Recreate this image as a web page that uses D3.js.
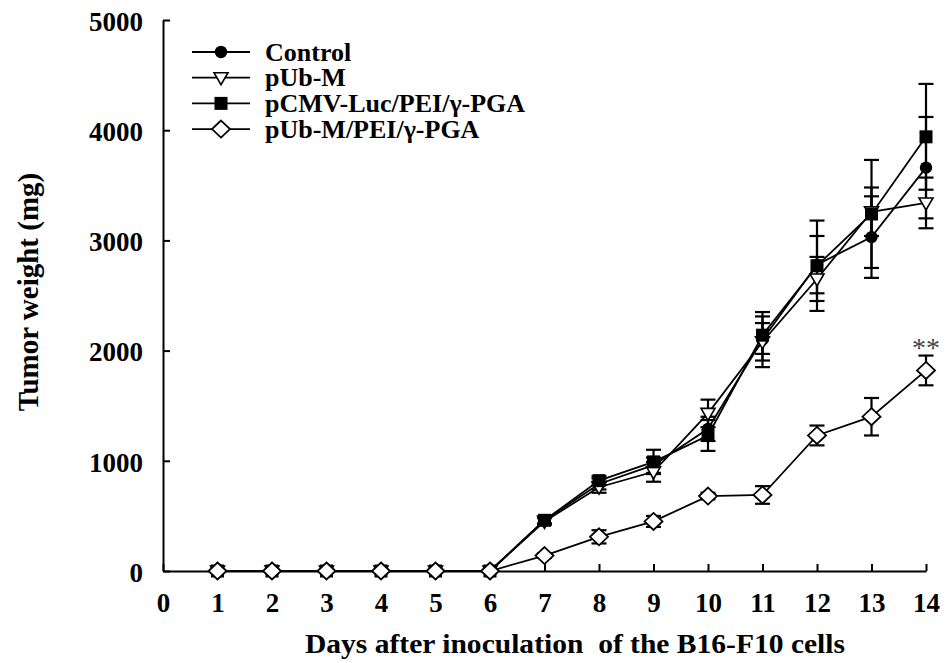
<!DOCTYPE html>
<html>
<head>
<meta charset="utf-8">
<script src="https://cdn.jsdelivr.net/npm/d3@7"></script>
<style>
  body { margin: 0; background: #fff; }
  svg text { font-family: "Liberation Serif", "Times New Roman", serif; }
</style>
</head>
<body>
<svg class="chart" width="946" height="663"></svg>
<script>
//------------------------------------------------------------------------------
//Data
//------------------------------------------------------------------------------
var days = [1, 2, 3, 4, 5, 6, 7, 8, 9, 10, 11, 12, 13, 14];
var xTicks = [0, 1, 2, 3, 4, 5, 6, 7, 8, 9, 10, 11, 12, 13, 14];
var yTicks = [0, 1000, 2000, 3000, 4000, 5000];
var seriesNames = ["Control", "pUb-M", "pCMV-Luc/PEI/\u03b3-PGA", "pUb-M/PEI/\u03b3-PGA"];

var control    = [0, 0, 0, 0, 0, 0, 460, 790, 960, 1290, 2100, 2780, 3030, 3660];
var controlErr = [0, 0, 0, 0, 0, 0, 30, 50, 70, 110, 250, 260, 370, 460];
var pubm       = [0, 0, 0, 0, 0, 0, 450, 760, 900, 1430, 2080, 2650, 3260, 3340];
var pubmErr    = [0, 0, 0, 0, 0, 0, 30, 50, 90, 125, 170, 200, 220, 230];
var pcmv       = [0, 0, 0, 0, 0, 0, 460, 820, 990, 1230, 2140, 2770, 3240, 3940];
var pcmvErr    = [0, 0, 0, 0, 0, 0, 30, 40, 110, 140, 170, 410, 490, 480];
var pubmPei    = [0, 0, 0, 0, 0, 0, 140, 310, 450, 680, 690, 1230, 1400, 1820];
var pubmPeiErr = [0, 0, 0, 0, 0, 0, 20, 60, 50, 30, 80, 90, 170, 135];

//------------------------------------------------------------------------------
//Main
//------------------------------------------------------------------------------
function main() {
  var series = [
    { name: seriesNames[0], values: control, err: controlErr, shape: "circle" },
    { name: seriesNames[1], values: pubm, err: pubmErr, shape: "triangle" },
    { name: seriesNames[2], values: pcmv, err: pcmvErr, shape: "square" },
    { name: seriesNames[3], values: pubmPei, err: pubmPeiErr, shape: "diamond" }
  ];
  drawChart(series);
}

//------------------------------------------------------------------------------
//Chart
//------------------------------------------------------------------------------
function drawMarker(g, shape) {
  if (shape == "circle") {
    g.append("circle").attr("r", 6.2).attr("fill", "#000");
  } else if (shape == "square") {
    g.append("rect").attr("x", -6.5).attr("y", -6.5).attr("width", 13).attr("height", 13).attr("fill", "#000");
  } else if (shape == "triangle") {
    g.append("path").attr("d", "M-7,-5L7,-5L0,7Z")
      .attr("fill", "#fff").attr("stroke", "#000").attr("stroke-width", 1.6);
  } else {
    g.append("path").attr("d", "M0,-8.5L9,0L0,8.5L-9,0Z")
      .attr("fill", "#fff").attr("stroke", "#000").attr("stroke-width", 1.8);
  }
}

function drawChart(series) {
  var svg = d3.select(".chart");
  svg.selectAll("*").remove();

  var x = d3.scaleLinear().domain([0, 14]).range([163, 926]);
  var y = d3.scaleLinear().domain([0, 5000]).range([571, 20]);

  // axes, ticks point inward
  var xAxis = svg.append("g")
    .attr("transform", "translate(0," + y(0) + ")")
    .call(d3.axisBottom(x).tickValues(xTicks).tickSize(-7).tickSizeOuter(0).tickPadding(22));
  var yAxis = svg.append("g")
    .attr("transform", "translate(" + x(0) + ",0)")
    .call(d3.axisLeft(y).tickValues(yTicks).tickFormat(d3.format("d"))
      .tickSize(-7).tickSizeOuter(0).tickPadding(20));

  [xAxis, yAxis].forEach(function (a) {
    a.select(".domain").attr("stroke", "#000").attr("stroke-width", 2);
    a.selectAll(".tick line").attr("stroke", "#000").attr("stroke-width", 2);
    a.selectAll(".tick text")
      .attr("fill", "#000")
      .style("font-family", "Liberation Serif")
      .style("font-weight", "bold")
      .style("font-size", "27px");
  });
  yAxis.selectAll(".tick text").attr("dy", "0.38em");

  // lines
  var line = d3.line()
    .x(function (d, i) { return x(days[i]); })
    .y(function (d) { return y(d); });

  series.forEach(function (s) {
    svg.append("path")
      .datum(s.values)
      .attr("d", line)
      .attr("fill", "none")
      .attr("stroke", "#000")
      .attr("stroke-width", 1.8);
  });

  // error bars
  series.forEach(function (s) {
    var eb = svg.append("g");
    s.values.forEach(function (v, i) {
      if (s.err[i] <= 0) return;
      var cx = x(days[i]);
      eb.append("line").attr("x1", cx).attr("x2", cx)
        .attr("y1", y(v - s.err[i])).attr("y2", y(v + s.err[i]));
      eb.append("line").attr("x1", cx - 7.5).attr("x2", cx + 7.5)
        .attr("y1", y(v + s.err[i])).attr("y2", y(v + s.err[i]));
      eb.append("line").attr("x1", cx - 7.5).attr("x2", cx + 7.5)
        .attr("y1", y(v - s.err[i])).attr("y2", y(v - s.err[i]));
    });
    eb.selectAll("line").attr("stroke", "#000").attr("stroke-width", 2.2);
  });

  // markers
  series.forEach(function (s) {
    s.values.forEach(function (v, i) {
      var m = svg.append("g").attr("transform", "translate(" + x(days[i]) + "," + y(v) + ")");
      drawMarker(m, s.shape);
    });
  });

  // significance mark
  svg.append("text")
    .attr("x", x(14))
    .attr("y", y(pubmPei[13] + pubmPeiErr[13]) + 1)
    .attr("text-anchor", "middle")
    .attr("fill", "#444")
    .style("font-family", "Liberation Serif")
    .style("font-size", "28px")
    .text("**");

  // legend
  var legend = svg.append("g");
  series.forEach(function (s, i) {
    var ly = 52 + i * 25.7;
    legend.append("line").attr("x1", 192).attr("x2", 250).attr("y1", ly).attr("y2", ly)
      .attr("stroke", "#000").attr("stroke-width", 1.8);
    drawMarker(legend.append("g").attr("transform", "translate(221," + ly + ")"), s.shape);
    legend.append("text")
      .attr("x", 265).attr("y", ly + 8.5)
      .style("font-weight", "bold")
      .style("font-size", "26px")
      .attr("fill", "#000")
      .text(s.name);
  });

  // axis titles
  svg.append("text")
    .attr("x", 575).attr("y", 653)
    .attr("text-anchor", "middle")
    .style("font-weight", "bold")
    .style("font-size", "28px")
    .attr("textLength", 540)
    .attr("lengthAdjust", "spacingAndGlyphs")
    .text("Days after inoculation\u00a0 of the B16-F10 cells");

  svg.append("text")
    .attr("transform", "translate(38,292) rotate(-90)")
    .attr("text-anchor", "middle")
    .style("font-weight", "bold")
    .style("font-size", "29px")
    .text("Tumor weight (mg)");
}

main();
</script>
</body>
</html>
